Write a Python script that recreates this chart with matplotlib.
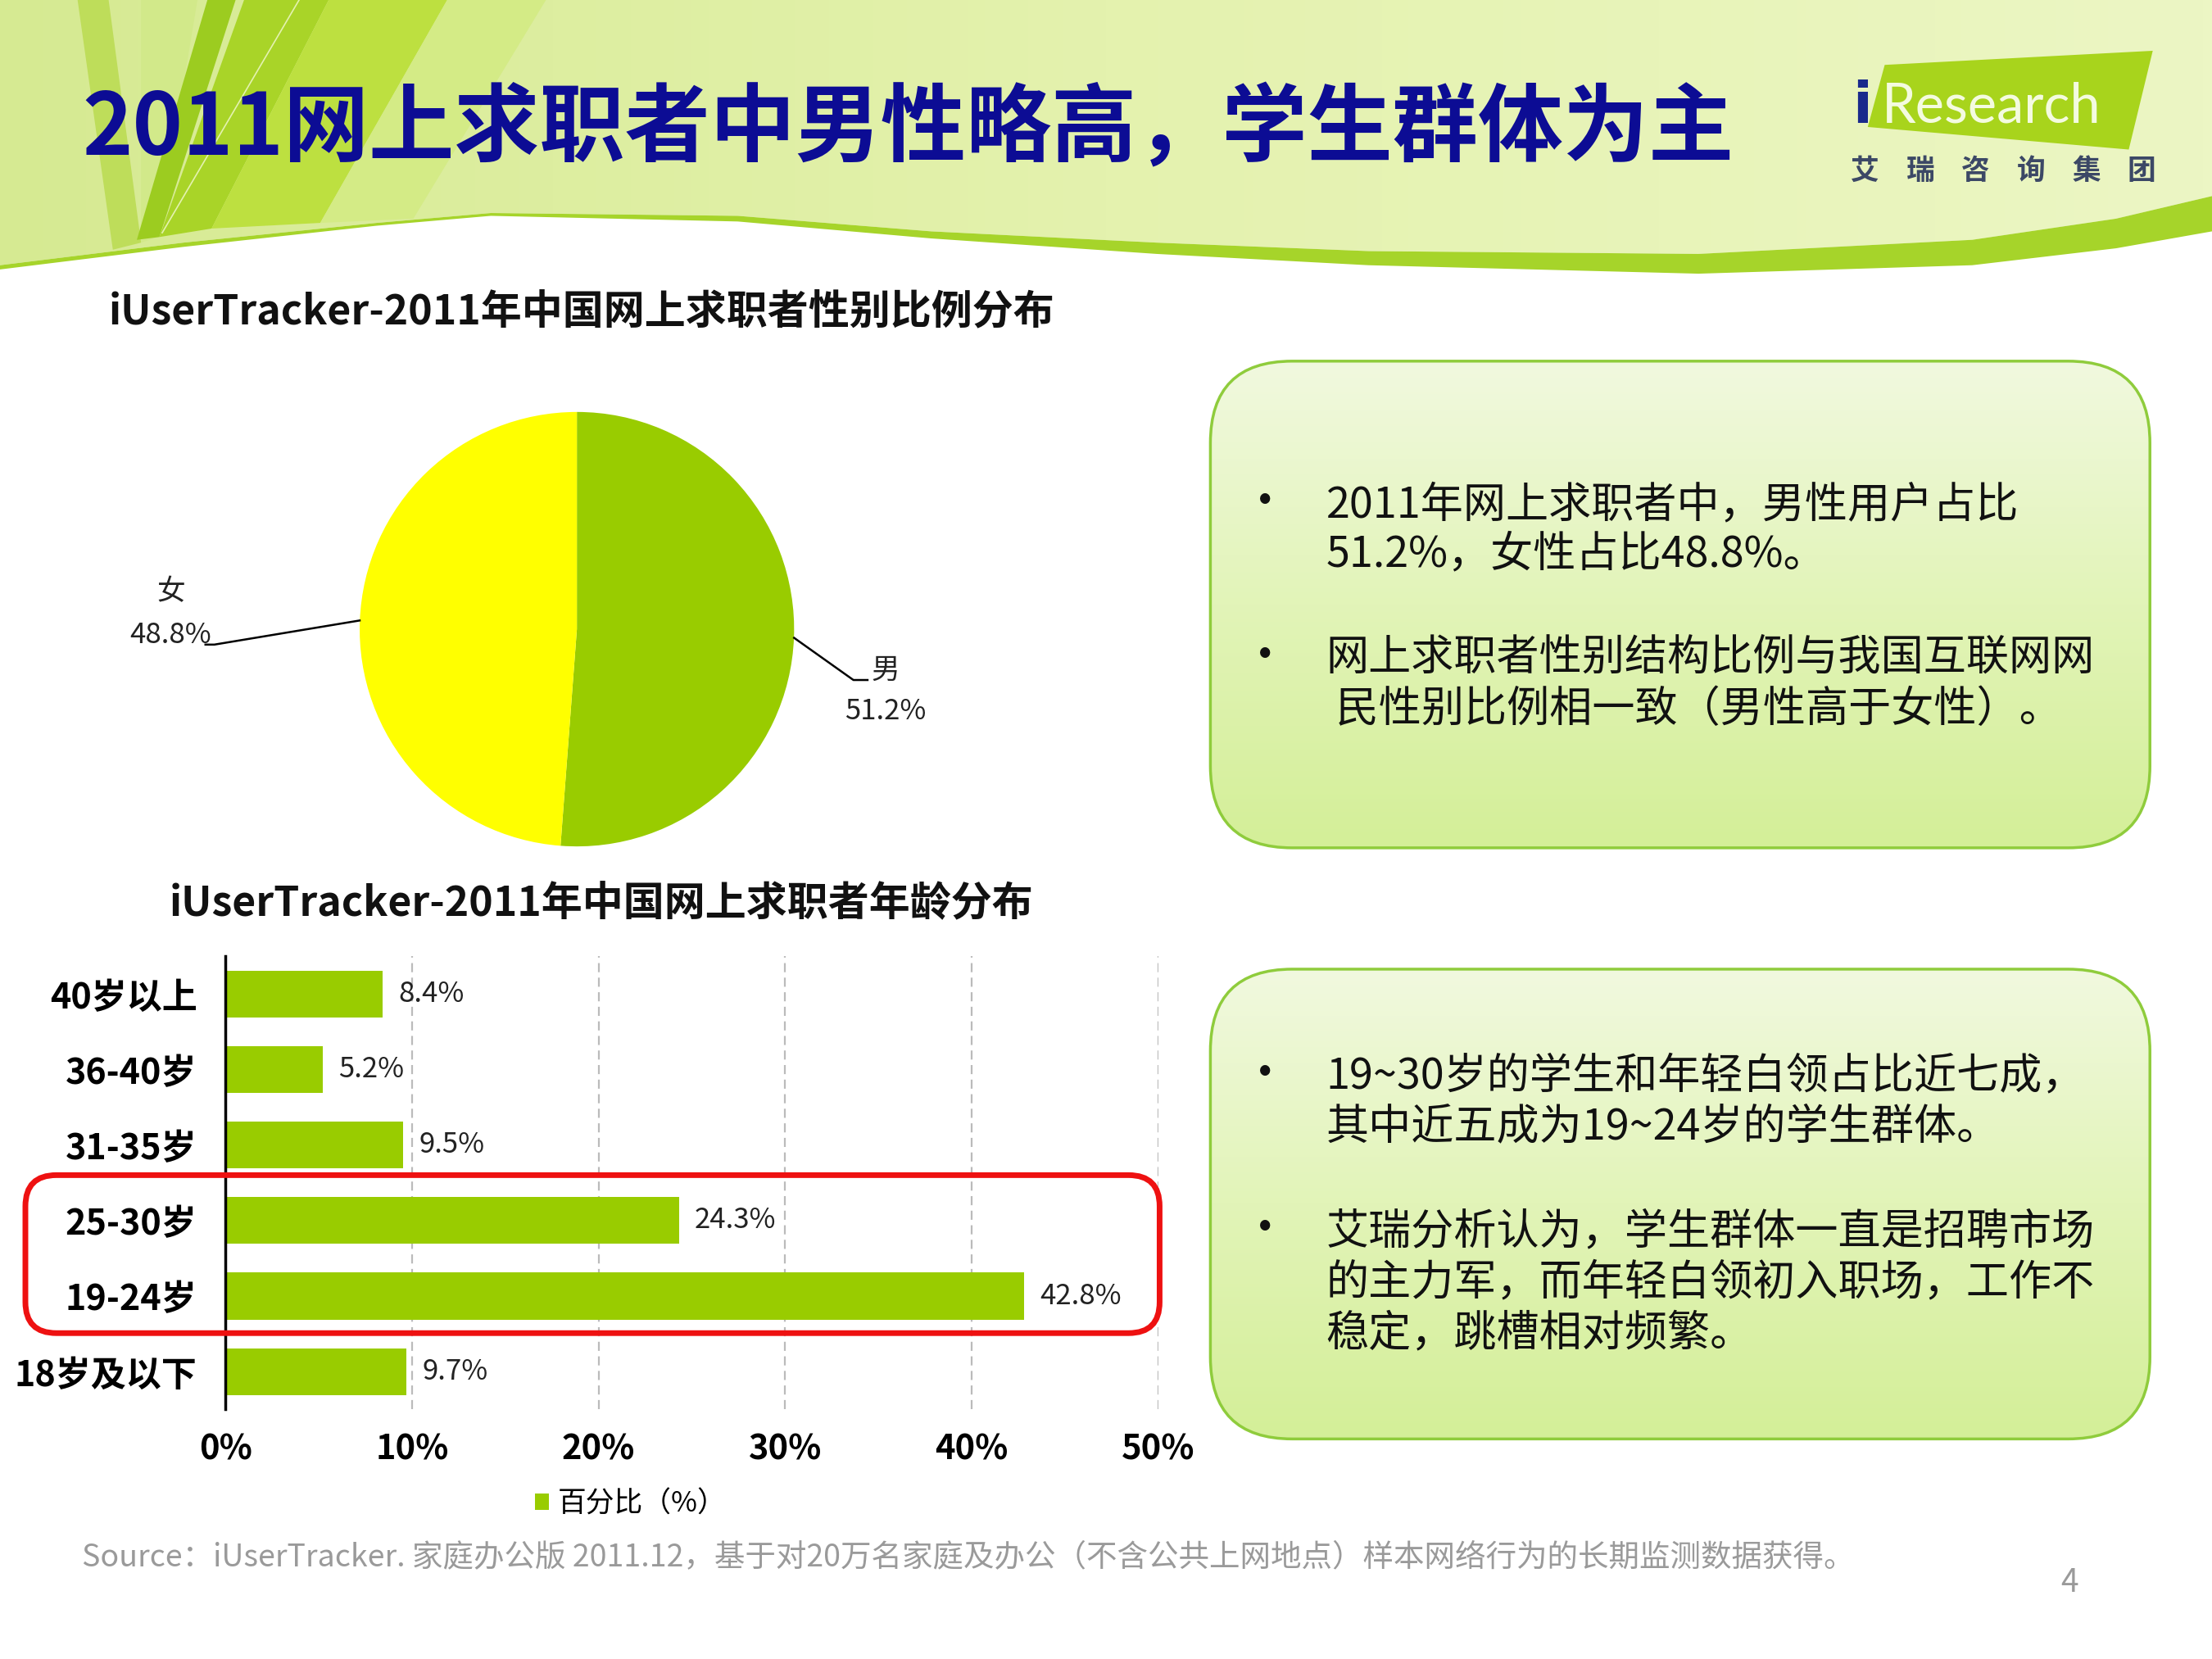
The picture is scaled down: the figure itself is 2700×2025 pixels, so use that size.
import numpy as np
import matplotlib
matplotlib.use("Agg")
from matplotlib import pyplot as plt
from matplotlib.patches import FancyBboxPatch, Polygon
from matplotlib.colors import LinearSegmentedColormap

plt.rcParams['font.family'] = ['Noto Sans CJK SC', 'DejaVu Sans']

# data
gender_labels = ['男', '女']
gender_values = [51.2, 48.8]
gender_colors = ['#99cc00', '#ffff00']

age_labels = ['40岁以上', '36-40岁', '31-35岁', '25-30岁', '19-24岁', '18岁及以下']
age_values = [8.4, 5.2, 9.5, 24.3, 42.8, 9.7]
x_ticks = [0, 10, 20, 30, 40, 50]

title = '2011网上求职者中男性略高，学生群体为主'
pie_title = 'iUserTracker-2011年中国网上求职者性别比例分布'
bar_title = 'iUserTracker-2011年中国网上求职者年龄分布'
legend_label = '百分比（%）'
box1_lines = ['2011年网上求职者中，男性用户占比', '51.2%，女性占比48.8%。',
              '网上求职者性别结构比例与我国互联网网', ' 民性别比例相一致（男性高于女性）。']
box2_lines = ['19~30岁的学生和年轻白领占比近七成，', '其中近五成为19~24岁的学生群体。',
              '艾瑞分析认为，学生群体一直是招聘市场', '的主力军，而年轻白领初入职场，工作不', '稳定，跳槽相对频繁。']
source = 'Source：iUserTracker. 家庭办公版 2011.12，基于对20万名家庭及办公（不含公共上网地点）样本网络行为的长期监测数据获得。'

W, H = 1568, 1176
fig = plt.figure(figsize=(27, 20.25), dpi=100)
fig.patch.set_facecolor('white')

# background layer in "slide" coordinates
bg = fig.add_axes([0, 0, 1, 1], zorder=-1)
bg.set_xlim(0, W)
bg.set_ylim(H, 0)
bg.axis('off')

# header
c1 = [(0, 188), (130, 172), (267, 158), (348, 151), (523, 153), (660, 164), (820, 172),
      (970, 178), (1204, 180), (1398, 170), (1500, 155), (1568, 139)]
c2 = [(0, 191), (130, 175), (267, 160), (348, 153), (523, 157), (660, 169), (820, 180),
      (970, 188), (1204, 194), (1398, 188), (1500, 176), (1568, 164)]
head_poly = Polygon([(0, 0), (W, 0)] + c1[::-1], closed=True, facecolor='none', edgecolor='none')
bg.add_patch(head_poly)
hcmap = LinearSegmentedColormap.from_list('h', ['#d6ea92', '#e4f2ae', '#ecf6c4'])
im = bg.imshow(np.linspace(0, 1, 256)[None, :], cmap=hcmap, extent=(0, W, 200, 0),
               origin='upper', aspect='auto', zorder=0)
im.set_clip_path(head_poly)
bg.add_patch(Polygon(c1 + c2[::-1], closed=True, facecolor='#a6d42a', edgecolor='none', zorder=1))

# stripes on the left
stripes = [
    ([(55, 0), (77, 0), (100, 172), (80, 177)], '#bedd5a'),
    ([(100, 0), (140, 0), (112, 168), (100, 172)], '#d2e98a'),
    ([(147, 0), (167, 0), (113, 168), (97, 170)], '#9ccc20'),
    ([(173, 0), (233, 0), (150, 162), (113, 168)], '#a9d428'),
    ([(233, 0), (317, 0), (227, 158), (150, 162)], '#bde040'),
    ([(317, 0), (387, 0), (293, 155), (227, 158)], '#d4eb86'),
]
for pts, col in stripes:
    bg.add_patch(Polygon(pts, closed=True, facecolor=col, edgecolor='none', zorder=0.5))
bg.plot([212, 115], [0, 165], color='#e4f2b0', lw=1.2, zorder=0.6)

# title
bg.text(58, 92, title, fontsize=75, fontweight='bold', color='#0c0c94', va='center', ha='left', zorder=3)

# logo
bg.add_patch(Polygon([(1336, 46), (1526, 36), (1509, 106), (1324, 90)], closed=True,
                     facecolor='#a8d41c', edgecolor='none', zorder=2))
bg.text(1313, 87, 'i', fontsize=50, fontweight='bold', color='#1a2a8c', family='DejaVu Sans',
        ha='left', va='baseline', zorder=3)
bg.text(1334, 87, 'Research', fontsize=48, color='#f4fbe0', family='Lato', ha='left', va='baseline', zorder=3)
for i, ch in enumerate('艾瑞咨询集团'):
    bg.text(1322 + i * 39.2, 121, ch, fontsize=25, fontweight='bold', color='#3c4866', ha='center', va='center', zorder=3)

# subtitles
bg.text(77, 222, pie_title, fontsize=36, fontweight='bold', color='#111111', ha='left', va='center')
bg.text(120, 641, bar_title, fontsize=36, fontweight='bold', color='#111111', ha='left', va='center')

# text boxes
bcmap = LinearSegmentedColormap.from_list('b', ['#f1f9df', '#e2f4b8', '#d4ef98'])
def text_box(x0, y0, x1, y1):
    box = FancyBboxPatch((x0, y0), x1 - x0, y1 - y0, boxstyle='round,pad=0,rounding_size=58',
                         facecolor='none', edgecolor='#8fcc3c', lw=2.5, zorder=2)
    bg.add_patch(box)
    g = bg.imshow(np.linspace(0, 1, 256)[:, None], cmap=bcmap, extent=(x0, x1, y1, y0),
                  origin='upper', aspect='auto', zorder=1)
    g.set_clip_path(box)

text_box(858, 256, 1524, 601)
text_box(858, 687, 1524, 1020)

box1_y = [358, 393, 467, 503]
for t, y in zip(box1_lines, box1_y):
    bg.text(940, y, t, fontsize=37.5, color='#111111', ha='left', va='center', zorder=3)
for y in [357, 466]:
    bg.text(897, y, '•', fontsize=42, color='#111111', ha='center', va='center', zorder=3)

box2_y = [763, 799, 873, 909, 945]
for t, y in zip(box2_lines, box2_y):
    bg.text(940, y, t, fontsize=37.5, color='#111111', ha='left', va='center', zorder=3)
for y in [762, 872]:
    bg.text(897, y, '•', fontsize=42, color='#111111', ha='center', va='center', zorder=3)

# source + page
bg.text(58, 1104, source, fontsize=27, color='#9a9a9a', ha='left', va='center')
bg.text(1467, 1122, '4', fontsize=28, color='#9a9a9a', ha='center', va='center')
bg.set_xlim(0, W)
bg.set_ylim(H, 0)

# pie
pax = fig.add_axes([0.1626, 0.4898, 0.1964, 0.2619])
pax.pie(gender_values, colors=gender_colors, startangle=90, counterclock=False,
        wedgeprops=dict(linewidth=0))
pax.set_xlim(-1, 1)
pax.set_ylim(-1, 1)
pax.plot([1.0, 1.273, 1.338], [-0.04, -0.234, -0.234], color='black', lw=1.8, clip_on=False)
pax.plot([-1.0, -1.669, -1.71], [0.04, -0.071, -0.071], color='black', lw=1.8, clip_on=False)
pax.text(1.42, -0.19, gender_labels[0], fontsize=25, color='#222222', ha='center', va='center')
pax.text(1.42, -0.38, f'{gender_values[0]}%', fontsize=25, color='#222222', ha='center', va='center')
pax.text(-1.87, 0.17, gender_labels[1], fontsize=25, color='#222222', ha='center', va='center')
pax.text(-1.87, -0.03, f'{gender_values[1]}%', fontsize=25, color='#222222', ha='center', va='center')

# bar chart
ax = fig.add_axes([0.1020, 0.1505, 0.4216, 0.2730])
ax.set_facecolor('none')
ypos = np.arange(len(age_labels))
bars = ax.barh(ypos, age_values, height=0.62, color='#99cc00', label=legend_label, zorder=2)
ax.set_ylim(len(age_labels) - 0.5, -0.5)
ax.set_xlim(0, 50)
ax.set_yticks(ypos)
ax.set_yticklabels(age_labels, fontsize=31, fontweight='bold')
ax.set_xticks(x_ticks)
ax.set_xticklabels([f'{v}%' for v in x_ticks], fontsize=30, fontweight='bold')
ax.tick_params(axis='y', length=0, pad=25)
ax.tick_params(axis='x', length=0, pad=20)
for s in ['top', 'right', 'bottom']:
    ax.spines[s].set_visible(False)
ax.spines['left'].set_linewidth(2.5)
ax.spines['left'].set_zorder(3)
ax.xaxis.grid(True, linestyle='--', color='#bbbbbb', lw=1.6, dashes=(5, 3))
ax.set_axisbelow(True)
for b, v in zip(bars, age_values):
    ax.annotate(f'{v}%', (v, b.get_y() + b.get_height() / 2), xytext=(14, 0),
                textcoords='offset points', fontsize=25, color='#222222', va='center', ha='left')
ax.legend(loc='center', bbox_to_anchor=(0.434, -0.209), frameon=False, fontsize=25,
          handlelength=0.5, handleheight=0.5, handletextpad=0.3)

# red highlight frame
ov = fig.add_axes([0, 0, 1, 1], zorder=5)
ov.set_xlim(0, W)
ov.set_ylim(H, 0)
ov.axis('off')
ov.add_patch(FancyBboxPatch((18, 833), 804, 112, boxstyle='round,pad=0,rounding_size=22',
                            facecolor='none', edgecolor='#ee1111', lw=5))

fig.savefig('out.png', dpi=100)
